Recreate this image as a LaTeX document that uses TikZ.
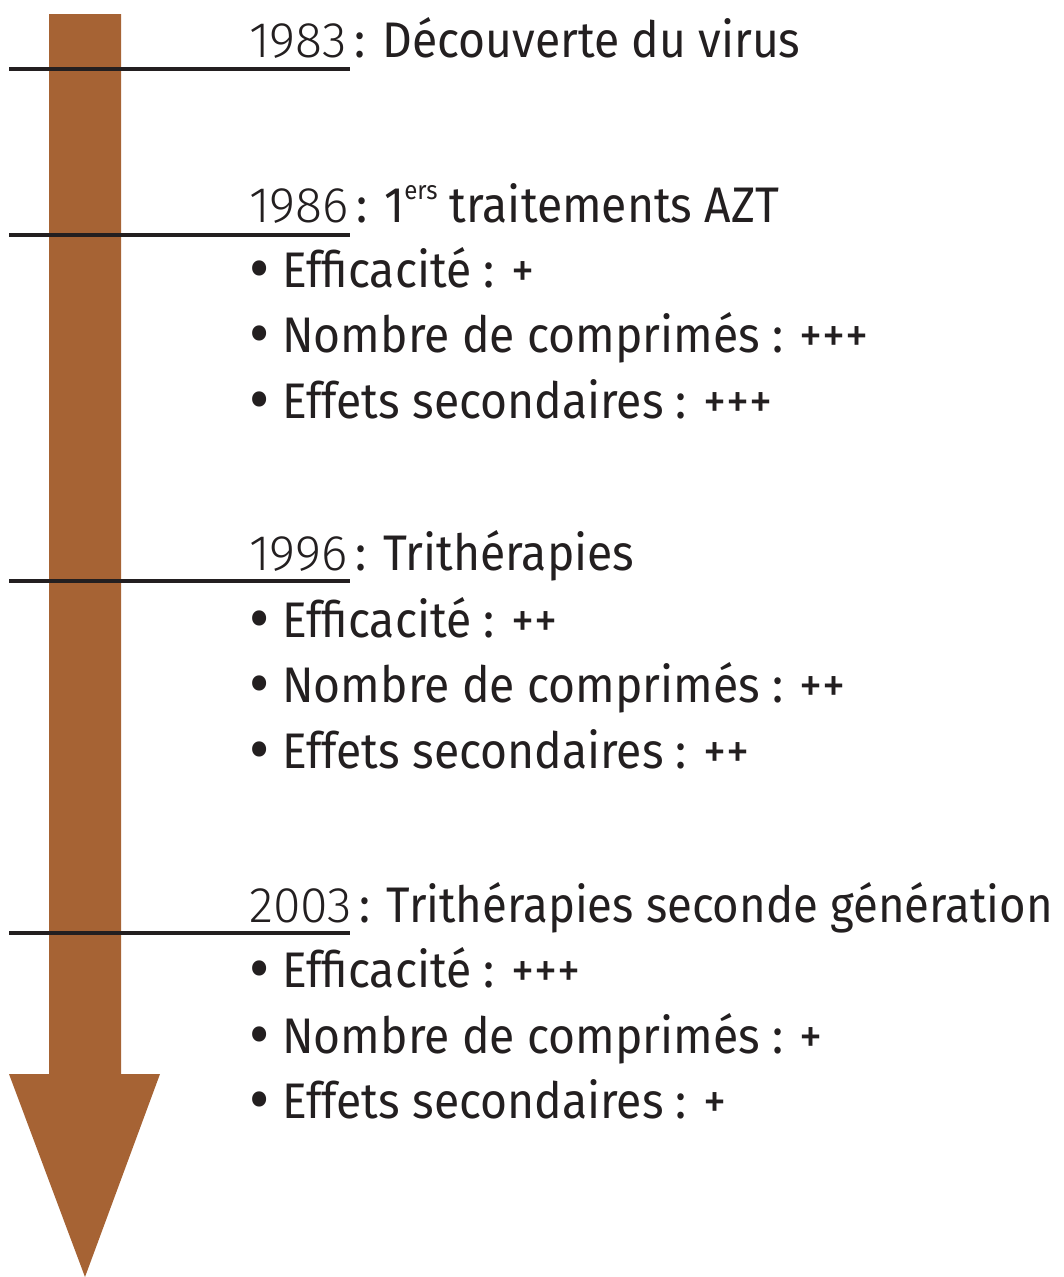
\documentclass[tikz,border=0pt]{standalone}
\usepackage{fontspec}
\setmainfont{Fira Sans}
\newfontfamily\yearfont{Fira Sans Light}
\definecolor{arrowbrown}{RGB}{166,99,52}
\definecolor{ink}{RGB}{35,31,32}
\newcommand{\yr}[1]{{\yearfont #1}}
\newcommand{\sq}[1]{\scalebox{0.925}[1]{#1}}
\newcommand{\bul}{\raisebox{-0.09em}{\scalebox{1.35}{\textbullet}}\hspace{0.28em}}
\begin{document}
\begin{tikzpicture}[x=1pt,y=-1pt,
  txt/.style={anchor=base west,inner sep=0pt,text=ink,font=\fontsize{50}{60}\selectfont},
  tick/.style={draw=ink,line width=3.5pt}]
\useasboundingbox (0,0) rectangle (1063,1277);
% arrow
\fill[arrowbrown] (49,14) -- (121,14) -- (121,1074) -- (160,1074) -- (85,1277) -- (9,1074) -- (49,1074) -- cycle;
% ticks
\coordinate (t1a) at (9,69); \coordinate (t1b) at (350,69);
\coordinate (t2a) at (9,235); \coordinate (t2b) at (350,235);
\coordinate (t3a) at (9,581); \coordinate (t3b) at (350,581);
\coordinate (t4a) at (9,933); \coordinate (t4b) at (350,933);
\draw[tick] (t1a) -- (t1b);
\draw[tick] (t2a) -- (t2b);
\draw[tick] (t3a) -- (t3b);
\draw[tick] (t4a) -- (t4b);
% texts
\node[txt] (h1) at (249,57) {\yr{1983}\hspace{0.16em}\sq{: Découverte du virus}};
\node[txt] (h2) at (249,222) {\yr{1986}\hspace{0.16em}\sq{: 1\raisebox{0.45em}{\fontsize{26}{30}\selectfont ers} traitements AZT}};
\node[txt] (b21) at (249,287) {\sq{\bul Efficacité : +}};
\node[txt] (b22) at (249,352) {\sq{\bul Nombre de comprimés : +++}};
\node[txt] (b23) at (249,418) {\sq{\bul Effets secondaires : +++}};
\node[txt] (h3) at (249,570) {\yr{1996}\hspace{0.16em}\sq{: Trithérapies}};
\node[txt] (b31) at (249,637) {\sq{\bul Efficacité : ++}};
\node[txt] (b32) at (249,702) {\sq{\bul Nombre de comprimés : ++}};
\node[txt] (b33) at (249,768) {\sq{\bul Effets secondaires : ++}};
\node[txt] (h4) at (249,922) {\yr{2003}\hspace{0.16em}\scalebox{0.91}[1]{: Trithérapies seconde génération}};
\node[txt] (b41) at (249,987) {\sq{\bul Efficacité : +++}};
\node[txt] (b42) at (249,1053) {\sq{\bul Nombre de comprimés : +}};
\node[txt] (b43) at (249,1118) {\sq{\bul Effets secondaires : +}};
\end{tikzpicture}
\end{document}
